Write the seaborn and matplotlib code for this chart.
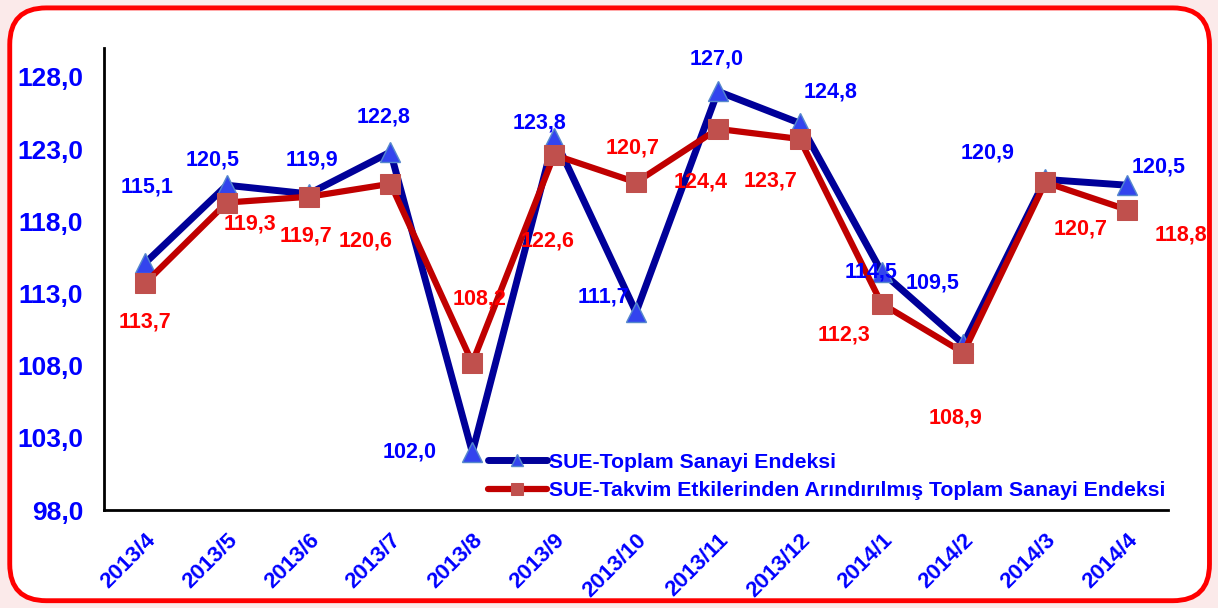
import pandas as pd
import matplotlib.pyplot as plt
import matplotlib.transforms as mtransforms
import seaborn as sns
from matplotlib.patches import FancyBboxPatch

# Data
months = ['2013/4', '2013/5', '2013/6', '2013/7', '2013/8', '2013/9', '2013/10',
          '2013/11', '2013/12', '2014/1', '2014/2', '2014/3', '2014/4']
toplam = [115.1, 120.5, 119.9, 122.8, 102.0, 123.8, 111.7, 127.0, 124.8, 114.5, 109.5, 120.9, 120.5]
takvim = [113.7, 119.3, 119.7, 120.6, 108.2, 122.6, 120.7, 124.4, 123.7, 112.3, 108.9, 120.7, 118.8]
yticks = [98, 103, 108, 113, 118, 123, 128]

name_toplam = 'SUE-Toplam Sanayi Endeksi'
name_takvim = 'SUE-Takvim Etkilerinden Arındırılmış Toplam Sanayi Endeksi'

# label offsets in pixels (dx, dy)
off_toplam = [(2, 76), (-14, 25), (3, 34), (-7, 35), (-63, 0), (-15, 15), (-33, 15),
              (-1, 32), (31, 31), (-11, 0), (-31, 61), (-58, 26), (31, 18)]
off_takvim = [(0, -39), (23, -21), (-3, -39), (-25, -57), (7, 64), (-7, -86), (-3, 34),
              (-17, -53), (-29, -42), (-38, -31), (-8, -65), (35, -47), (54, -25)]

df = pd.DataFrame({'pos': range(len(months)), 'toplam': toplam, 'takvim': takvim})

sns.set_style('white')
plt.rcParams['font.family'] = ['Liberation Sans', 'DejaVu Sans']
plt.rcParams['font.weight'] = 'bold'

fig = plt.figure(figsize=(12.18, 6.08), dpi=100)
fig.patch.set_facecolor('#fbeaea')
frame = FancyBboxPatch((0.008, 0.012), 0.985, 0.975, boxstyle='round,pad=0,rounding_size=0.03',
                       transform=fig.transFigure, facecolor='white', edgecolor='#ff0000',
                       linewidth=3.5, mutation_aspect=2.0, zorder=-5)
fig.patches.append(frame)

ax = fig.add_axes([0.0854, 0.161, 0.8736, 0.76])
ax.set_zorder(2)
ax.patch.set_alpha(0)

sns.lineplot(data=df, x='pos', y='toplam', ax=ax, color='#000099', linewidth=5,
             marker='^', markersize=15, markerfacecolor='#3344ee', markeredgecolor='#5588cc',
             markeredgewidth=1, label=name_toplam)
sns.lineplot(data=df, x='pos', y='takvim', ax=ax, color='#c00000', linewidth=4.5,
             marker='s', markersize=14, markerfacecolor='#c0504d', markeredgecolor='#c0504d',
             label=name_takvim)

for i in range(len(months)):
    ax.annotate(f'{toplam[i]:.1f}'.replace('.', ','), (i, toplam[i]), xytext=off_toplam[i],
                textcoords='offset pixels', ha='center', va='center', color='#0000ff',
                fontsize=15.5, fontweight='bold')
    ax.annotate(f'{takvim[i]:.1f}'.replace('.', ','), (i, takvim[i]), xytext=off_takvim[i],
                textcoords='offset pixels', ha='center', va='center', color='#ff0000',
                fontsize=15.5, fontweight='bold')

ax.set_xlim(-0.5, len(months) - 0.5)
ax.set_ylim(98, 130)
ax.set_yticks(yticks)
ax.set_yticklabels([f'{v:.1f}'.replace('.', ',') for v in yticks], color='#0000ff',
                   fontsize=19, fontweight='bold')
ax.set_xticks(range(len(months)))
ax.set_xticklabels(months, rotation=45, ha='right', rotation_mode='anchor', color='#0000ff',
                   fontsize=16, fontweight='bold')
shift = mtransforms.ScaledTranslation(5 / 100, 0, fig.dpi_scale_trans)
for lbl in ax.get_xticklabels():
    lbl.set_transform(lbl.get_transform() + shift)
ax.set_xticks([i - 0.5 for i in range(len(months) + 1)], minor=True)
ax.tick_params(axis='x', which='major', length=0, pad=14)
ax.tick_params(axis='x', which='minor', length=7, width=2, color='black', direction='out')
ax.tick_params(axis='y', length=7, width=2, color='black', direction='out', pad=8)
ax.set_xlabel('')
ax.set_ylabel('')

for s in ['top', 'right']:
    ax.spines[s].set_visible(False)
for s in ['left', 'bottom']:
    ax.spines[s].set_color('black')
    ax.spines[s].set_linewidth(2)

leg = ax.legend(loc='upper left', bbox_to_anchor=(479 / 1218, 1 - 444 / 608),
                bbox_transform=fig.transFigure, frameon=False, handlelength=2.8,
                handletextpad=0.1, labelspacing=0.45, borderaxespad=0,
                prop={'size': 15.3, 'weight': 'bold'})
for t in leg.get_texts():
    t.set_color('#0000ff')
for h in leg.legend_handles:
    h.set_markersize(9)

plt.savefig('out.png', dpi=100, facecolor=fig.get_facecolor())
plt.close()
